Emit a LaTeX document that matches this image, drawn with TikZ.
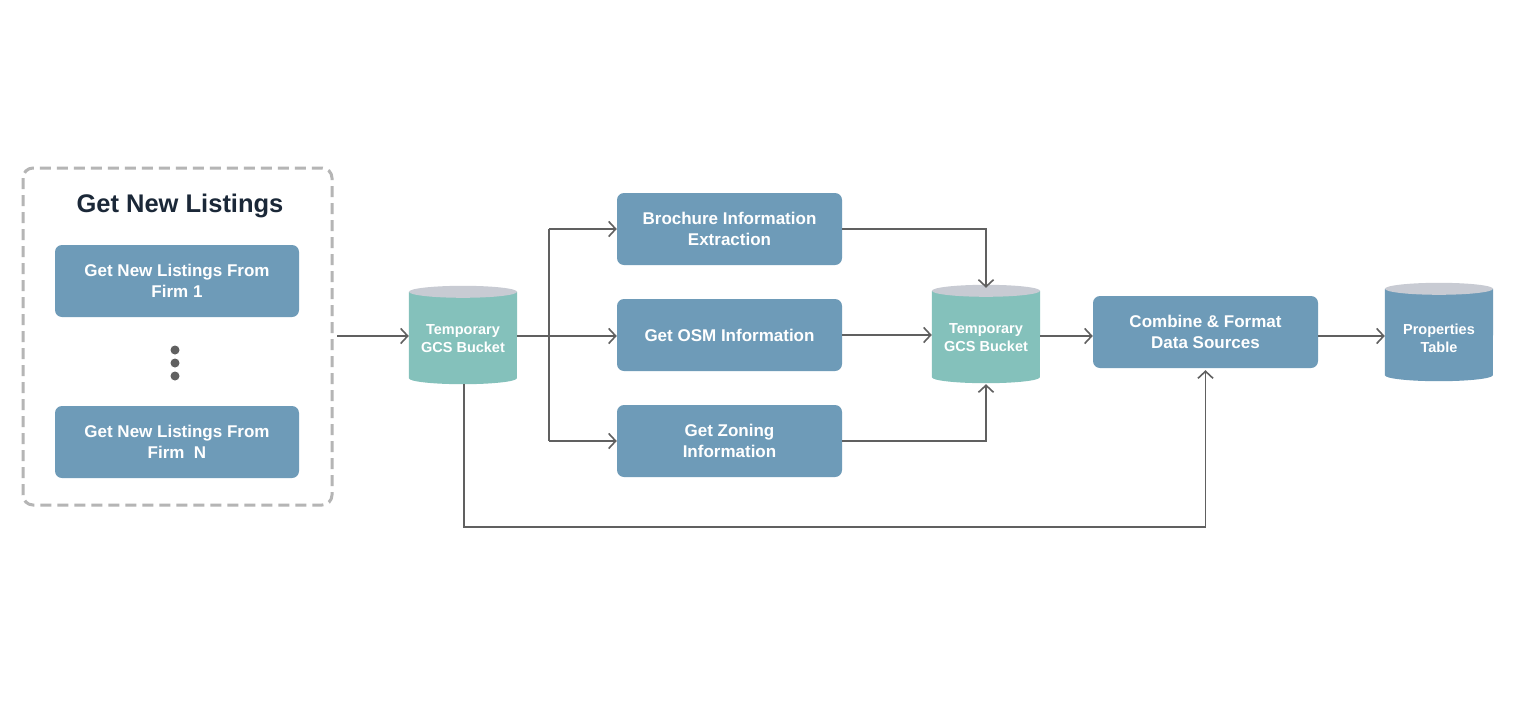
\documentclass[tikz,border=0pt]{standalone}
\usepackage{fontspec}
\setmainfont{Liberation Sans}
\usetikzlibrary{arrows.meta}
\definecolor{boxblue}{HTML}{6E9BB8}
\definecolor{cylteal}{HTML}{84C1BB}
\definecolor{cyltop}{HTML}{C8CBD3}
\definecolor{linegray}{HTML}{606060}
\definecolor{dashgray}{HTML}{B5B5B5}
\definecolor{titlenavy}{HTML}{1B2838}
\tikzset{
  procbox/.style={rectangle, rounded corners=7pt, fill=boxblue, text=white,
    font=\bfseries\fontsize{17}{21}\selectfont, align=center, inner sep=0pt},
  cylnode/.style={rectangle, minimum width=108pt, minimum height=98pt, inner sep=0pt},
  cyltext/.style={text=white, font=\bfseries\fontsize{14.5}{18}\selectfont, align=center, inner sep=0pt},
  conn/.style={draw=linegray, line width=1.6pt},
  arr/.style={conn, -{Straight Barb[length=7pt,width=15pt,line width=1.6pt]}},
}
\newcommand{\drawcyl}[2]{%
  \fill[#2] ([yshift=-6pt]#1.north west) -- ([yshift=6pt]#1.south west)
    arc[start angle=180, end angle=360, x radius=54pt, y radius=6pt]
    -- ([yshift=-6pt]#1.north east) -- cycle;
  \fill[cyltop] ([yshift=-6pt]#1.north) ellipse[x radius=54pt, y radius=6pt];
}
\begin{document}
\begin{tikzpicture}[x=1pt, y=-1pt]
\useasboundingbox[fill=white] (0,0) rectangle (1516,707);
% dashed group
\draw[dashgray, line width=3pt, dash pattern=on 11pt off 6pt, rounded corners=10pt] (23,168) rectangle (332,505);
\node (title) [text=titlenavy, font=\bfseries\fontsize{25.5}{30}\selectfont] at (180,206) {Get New Listings};
\node (f1) [procbox, minimum width=244pt, minimum height=72pt] at (177,281) {Get New Listings From\\Firm 1};
\node (fn) [procbox, minimum width=244pt, minimum height=72pt] at (177,442) {Get New Listings From\\Firm\ \ N};
\fill[linegray] (175,350) circle (4.5pt) (175,363) circle (4.5pt) (175,376) circle (4.5pt);
% cylinders
\node (c1) [cylnode] at (463,335) {};
\drawcyl{c1}{cylteal}
\node (c1t) [cyltext] at ([yshift=-3.5pt]c1) {Temporary\\GCS Bucket};
\node (c2) [cylnode] at (986,334) {};
\drawcyl{c2}{cylteal}
\node (c2t) [cyltext] at ([yshift=-3.5pt]c2) {Temporary\\GCS Bucket};
\node (c3) [cylnode] at (1439,332) {};
\drawcyl{c3}{boxblue}
\node (c3t) [cyltext] at ([yshift=-6pt]c3) {Properties\\Table};
% processing boxes
\node (bro) [procbox, minimum width=225pt, minimum height=72pt] at (729.5,229) {Brochure Information\\Extraction};
\node (osm) [procbox, minimum width=225pt, minimum height=72pt] at (729.5,335) {Get OSM Information};
\node (zon) [procbox, minimum width=225pt, minimum height=72pt] at (729.5,441) {Get Zoning\\Information};
\node (comb) [procbox, minimum width=225pt, minimum height=72pt] at (1205.5,332) {Combine \& Format\\Data Sources};
% connectors
\coordinate (gin) at (337,336);
\draw[arr] (gin) -- (c1.west |- gin);
\coordinate (br) at (549,336);
\draw[conn] (c1.east |- br) -- (br);
\draw[arr] (br |- bro.west) -- (bro.west);
\draw[arr] (br) -- (br -| osm.west);
\draw[arr] (br |- zon.west) -- (zon.west);
\draw[conn] (br |- bro.west) -- (br |- zon.west);
\draw[arr] (bro.east) -| ([yshift=-3pt]c2.north);
\draw[arr] (osm.east) -- (osm.east -| c2.west);
\draw[arr] (zon.east) -| ([yshift=-1pt]c2.south);
\draw[arr] (c2.east |- 0,336) -- (comb.west |- 0,336);
\draw[arr] (comb.east |- 0,336) -- (c3.west |- 0,336);
\coordinate (low) at (464,527);
\draw[arr] (c1.south -| low) -- (low) -| ([yshift=-2pt]comb.south);
\end{tikzpicture}
\end{document}
